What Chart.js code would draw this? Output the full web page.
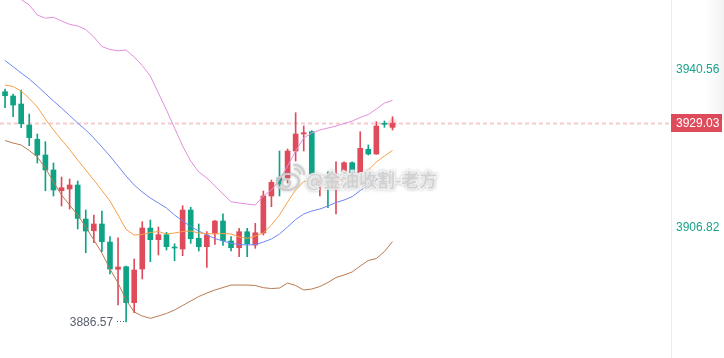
<!DOCTYPE html>
<html>
<head>
<meta charset="utf-8">
<script src="https://cdn.jsdelivr.net/npm/chart.js@4/dist/chart.umd.min.js"></script>
<style>
html,body{margin:0;padding:0;background:#fff;overflow:hidden;}
#wrap{width:724px;height:358px;position:relative;}
canvas{display:block;}
</style>
</head>
<body>
<div id="wrap"><canvas id="c" width="724" height="358"></canvas></div>
<script>
// ---------- data ----------
const candleLabels = ['1','2','3','4','5','6','7','8','9','10','11','12','13','14','15','16','17','18','19','20',
  '21','22','23','24','25','26','27','28','29','30','31','32','33','34','35','36','37','38','39','40',
  '41','42','43','44','45','46','47','48','49'];
const opens  = [3935.81,3934.89,3933.18,3928.69,3925.63,3922.27,3919.06,3914.63,3914.99,3915.85,
                3908.57,3906.07,3907.51,3903.65,3897.81,3898.37,3890.67,3897.88,3906.65,3904.15,
                3905.22,3902.52,3902.16,3910.50,3904.45,3902.65,3905.52,3908.15,3903.87,3902.43,
                3905.86,3903.01,3905.58,3913.50,3917.35,3917.35,3923.12,3926.76,3927.25,3916.28,
                3917.77,3916.06,3918.48,3920.62,3918.48,3923.49,3922.48,3928.96,3928.19];
const highs  = [3936.39,3935.32,3936.17,3931.04,3926.76,3925.11,3920.56,3917.56,3917.13,3916.70,
                3910.50,3909.43,3910.29,3904.79,3904.57,3898.52,3900.02,3908.00,3908.36,3906.86,
                3905.73,3903.29,3911.42,3911.08,3907.51,3905.86,3908.25,3909.71,3904.79,3906.58,
                3906.58,3907.66,3914.56,3916.92,3923.12,3923.55,3931.32,3928.47,3927.47,3917.99,
                3918.69,3920.83,3920.83,3920.83,3927.25,3924.41,3929.39,3929.54,3930.46];
const lows   = [3932.39,3930.46,3928.11,3924.26,3920.56,3914.63,3913.50,3911.36,3910.71,3906.44,
                3901.36,3903.50,3901.58,3896.81,3890.18,3886.57,3888.53,3895.74,3899.44,3900.87,
                3901.94,3899.65,3900.72,3903.38,3901.73,3898.20,3903.16,3902.95,3901.73,3900.51,
                3900.51,3902.31,3905.15,3911.21,3913.50,3916.28,3920.98,3923.12,3917.77,3913.50,
                3910.99,3909.64,3918.35,3917.99,3918.35,3922.27,3922.42,3928.19,3927.62];
const closes = [3934.95,3932.96,3928.96,3925.97,3922.27,3919.06,3914.78,3915.27,3915.85,3908.72,
                3906.01,3907.51,3903.72,3897.88,3898.31,3890.67,3897.66,3906.65,3904.15,3905.22,
                3902.65,3902.37,3910.50,3904.36,3902.65,3905.15,3908.15,3903.93,3902.43,3905.86,
                3903.23,3905.64,3913.50,3916.43,3916.06,3923.12,3926.76,3927.04,3918.20,3917.35,
                3916.28,3917.35,3920.62,3918.48,3923.70,3922.48,3928.47,3928.84,3929.03];
const upperBand = [3958.64,3956.71,3955.54,3954.36,3952.22,3951.54,3951.73,3950.94,3950.23,3949.87,
                3949.12,3947.51,3945.48,3944.84,3944.56,3944.73,3943.23,3941.42,3939.17,3935.53,
                3931.90,3928.04,3924.19,3920.98,3918.63,3917.35,3915.64,3913.92,3912.28,3912.00,
                3911.78,3911.57,3913.50,3914.78,3916.92,3919.91,3923.12,3925.90,3926.97,3927.62,
                3928.04,3928.47,3929.01,3929.54,3930.29,3930.93,3932.11,3933.39,3933.93];
const maOrange = [3937.24,3936.92,3935.96,3934.36,3932.54,3929.97,3927.62,3925.48,3923.44,3921.20,
                3919.06,3916.92,3914.67,3912.43,3909.43,3906.33,3905.15,3905.26,3905.69,3905.90,
                3905.37,3905.58,3905.90,3906.01,3905.58,3905.47,3905.37,3905.47,3905.37,3904.72,
                3904.45,3904.94,3905.58,3907.29,3909.43,3912.21,3914.78,3916.60,3916.77,3916.81,
                3916.81,3916.92,3917.03,3917.56,3918.20,3919.06,3920.77,3922.05,3923.23];
const maBlue = [3942.49,3941.16,3939.81,3938.53,3937.03,3935.43,3933.82,3932.32,3930.72,3929.11,
                3927.62,3925.90,3923.98,3922.05,3919.91,3917.77,3915.85,3914.35,3913.07,3912.00,
                3910.93,3909.43,3908.15,3906.97,3906.01,3905.15,3904.40,3903.87,3903.38,3903.12,
                3903.01,3903.12,3903.65,3904.30,3905.37,3906.86,3908.47,3909.64,3910.29,3910.71,
                3911.36,3912.10,3912.64,3913.35,3914.67,3915.74,3916.92,3917.99,3918.84];
const lowerBand = [3925.37,3924.83,3924.41,3923.23,3921.84,3919.49,3916.49,3913.71,3911.57,3909.43,
                3906.86,3904.08,3901.30,3897.88,3894.88,3891.24,3888.68,3887.82,3887.33,3887.82,
                3888.36,3889.11,3890.07,3891.03,3891.99,3892.74,3893.38,3893.92,3894.45,3894.45,
                3894.45,3894.35,3893.88,3893.70,3893.81,3894.88,3894.35,3893.38,3893.60,3894.13,
                3894.99,3896.06,3896.59,3897.24,3898.52,3899.70,3900.12,3901.62,3903.76];
const axisTickValues = [3940.56, 3906.82];
const lastPrice = 3929.03;
const lowMarkIndex = 15;
const lowMarkValue = 3886.57;
const watermarkText = '@金油收割-老方';

// ---------- layout constants ----------
const SLOTS = 83;
const UP = '#e04b5c', DOWN = '#0fa386';
const labels = candleLabels.concat(new Array(SLOTS - candleLabels.length).fill(''));
const candleColors = opens.map((o, i) => closes[i] >= o ? UP : DOWN);

const overlay = {
  id: 'overlay',
  beforeDatasetsDraw(chart) {
    const {ctx, chartArea, scales} = chart;
    const y = scales.y.getPixelForValue(lastPrice);
    ctx.save();
    ctx.strokeStyle = 'rgba(240,168,175,0.6)';
    ctx.lineWidth = 2;
    ctx.setLineDash([4, 3]);
    ctx.beginPath();
    ctx.moveTo(0, y);
    ctx.lineTo(chartArea.right, y);
    ctx.stroke();
    ctx.restore();
  },
  afterDraw(chart) {
    const {ctx, chartArea, scales} = chart;
    const ys = scales.y, xs = scales.x;
    ctx.save();
    // last price glow
    const lx = xs.getPixelForValue(candleLabels.length - 1);
    const ly = ys.getPixelForValue(lastPrice);
    const g = ctx.createRadialGradient(lx, ly, 0, lx, ly, 6);
    g.addColorStop(0, 'rgba(224,75,92,0.45)');
    g.addColorStop(1, 'rgba(224,75,92,0)');
    ctx.fillStyle = g;
    ctx.beginPath(); ctx.arc(lx, ly, 6, 0, Math.PI * 2); ctx.fill();

    // price box
    ctx.fillStyle = UP;
    ctx.fillRect(chartArea.right, Math.round(ly) - 9, 51, 18);
    ctx.fillStyle = '#fff';
    ctx.font = '12px "Liberation Sans", Arial, sans-serif';
    ctx.textAlign = 'left';
    ctx.textBaseline = 'middle';
    ctx.fillText(lastPrice.toFixed(2), chartArea.right + 5, Math.round(ly) + 0.5);

    // low annotation
    const px = xs.getPixelForValue(lowMarkIndex);
    const py = ys.getPixelForValue(lowMarkValue);
    ctx.fillStyle = '#5b6070';
    for (let d = 3; d <= 10; d += 3) ctx.fillRect(Math.round(px - d), Math.round(py) - 1, 1, 1);
    ctx.textAlign = 'right';
    ctx.fillText(lowMarkValue.toFixed(2), px - 13, py + 1);

    // watermark
    ctx.shadowColor = 'rgba(150,150,150,0.6)';
    ctx.shadowBlur = 3;
    ctx.strokeStyle = 'rgba(205,205,205,0.95)';
    ctx.lineWidth = 2;
    ctx.beginPath(); ctx.ellipse(288, 182, 11, 8, -0.15, 0, Math.PI * 2); ctx.stroke();
    ctx.beginPath(); ctx.arc(286, 183, 4, 0, Math.PI * 2); ctx.stroke();
    ctx.beginPath(); ctx.arc(295, 174, 5, -Math.PI * 0.55, 0.1); ctx.stroke();
    ctx.beginPath(); ctx.arc(295, 174, 9, -Math.PI * 0.55, 0.1); ctx.stroke();
    ctx.font = '18px "Noto Sans CJK SC", sans-serif';
    ctx.textAlign = 'left';
    ctx.textBaseline = 'middle';
    ctx.lineWidth = 3;
    ctx.strokeStyle = 'rgba(255,255,255,0.85)';
    ctx.strokeText(watermarkText, 306, 180);
    ctx.fillStyle = 'rgba(208,208,208,0.97)';
    ctx.fillText(watermarkText, 306, 180);

    // right edge soft shade
    ctx.shadowBlur = 0;
    ctx.shadowColor = 'rgba(0,0,0,0)';
    const sg = ctx.createLinearGradient(706, 0, 724, 0);
    sg.addColorStop(0, 'rgba(0,0,0,0)');
    sg.addColorStop(1, 'rgba(0,0,0,0.05)');
    ctx.fillStyle = sg;
    ctx.fillRect(706, 0, 18, 120);
    ctx.restore();
  }
};

const lineDs = (data, color) => ({
  type: 'line', data, borderColor: color, borderWidth: 1, pointRadius: 0,
  tension: 0, fill: false, order: 0, spanGaps: false
});

new Chart(document.getElementById('c'), {
  data: {
    labels,
    datasets: [
      lineDs(upperBand, '#e08fdc'),
      lineDs(maOrange, '#f7a046'),
      lineDs(maBlue, '#6f86f2'),
      lineDs(lowerBand, '#b97a50'),
      {
        type: 'bar', data: lows.map((l, i) => [l, highs[i]]),
        backgroundColor: candleColors, barThickness: 1, grouped: false, order: 2, borderWidth: 0
      },
      {
        type: 'bar', data: opens.map((o, i) => [o, closes[i]]),
        backgroundColor: candleColors, barThickness: 5, grouped: false, order: 1,
        borderWidth: 0, minBarLength: 1
      }
    ]
  },
  options: {
    responsive: false,
    devicePixelRatio: 1,
    animation: false,
    events: [],
    layout: { padding: { left: 1, right: 0, top: 0, bottom: 0 } },
    plugins: { legend: { display: false }, tooltip: { enabled: false } },
    scales: {
      x: { type: 'category', display: false, offset: true },
      y: {
        position: 'right',
        min: 3878.84, max: 3955.43,
        grid: { display: false, drawTicks: false },
        border: { display: true, color: '#ececec', width: 1 },
        ticks: {
          color: '#1aa38a', padding: 5,
          font: { size: 12, family: '"Liberation Sans", Arial, sans-serif' },
          callback: v => Number(v).toFixed(2)
        },
        afterBuildTicks: s => { s.ticks = axisTickValues.map(v => ({ value: v })); },
        afterFit: s => { s.width = 53; s.paddingTop = 0; s.paddingBottom = 0; }
      }
    }
  },
  plugins: [overlay]
});
</script>
</body>
</html>
